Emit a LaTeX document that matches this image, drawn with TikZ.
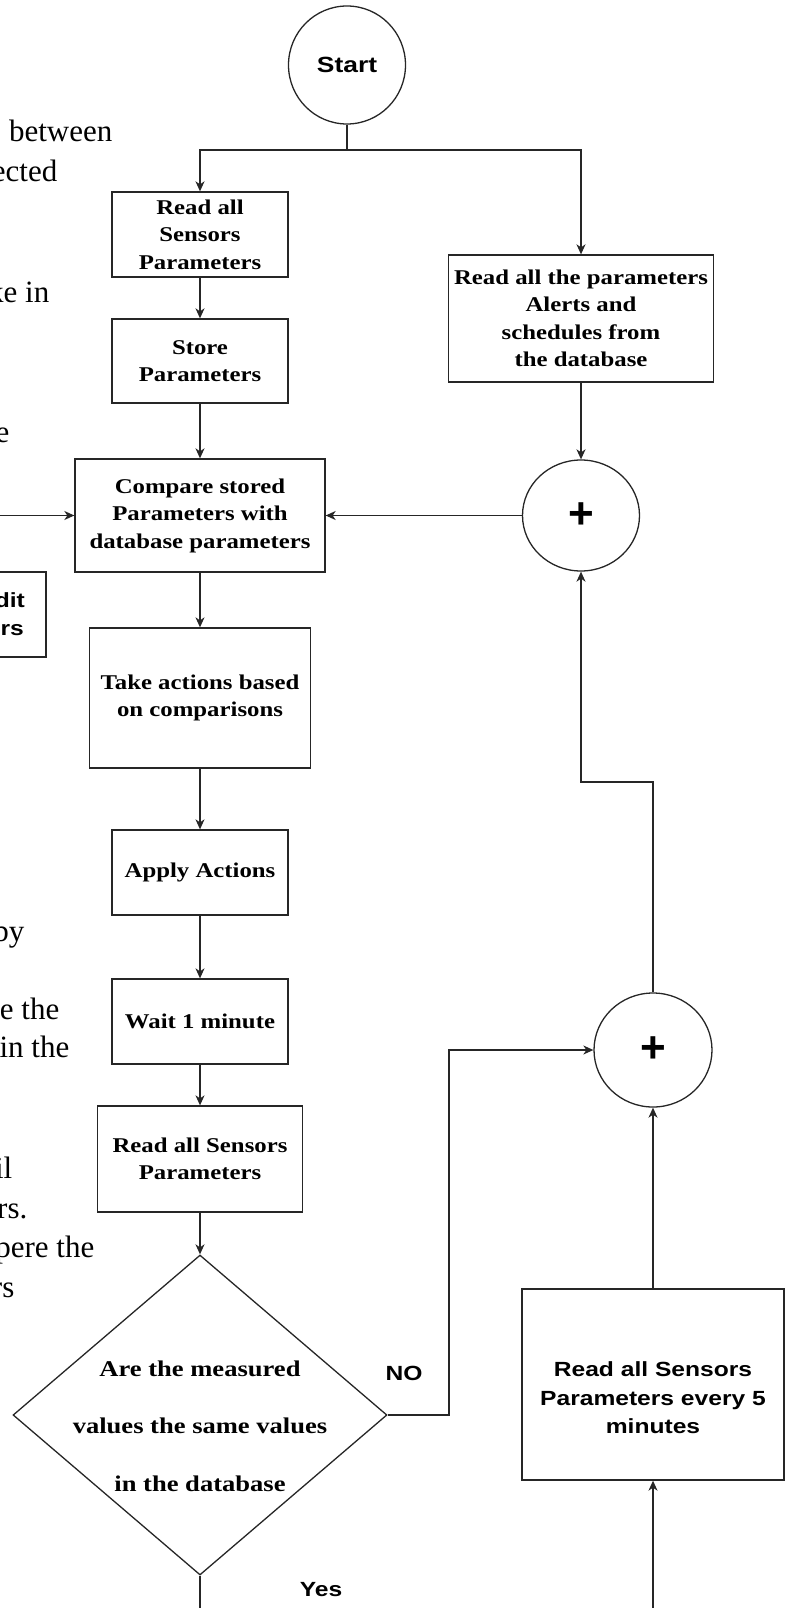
\documentclass[tikz,border=0pt]{standalone}
\usepackage{fontspec}
\setmainfont{Liberation Serif}
\newfontfamily\chartserif[FakeStretch=1.18]{Liberation Serif}
\newfontfamily\chartsans[FakeStretch=1.2]{Liberation Sans}
\newfontfamily\plussans{Liberation Sans}
\usetikzlibrary{arrows.meta,shapes.geometric}

\begin{document}
\begin{tikzpicture}[x=1pt,y=-1pt,line width=1.3pt,
  stepbox/.style={draw=black!85,rectangle,inner sep=0pt,align=center,
    font=\chartserif\bfseries\fontsize{21}{27.5}\selectfont},
  roundnode/.style={draw=black!85,ellipse,inner sep=0pt},
  sumnode/.style={roundnode,font=\plussans\bfseries\fontsize{44}{44}\selectfont},
  sanslabel/.style={inner sep=0pt,align=center,
    font=\chartsans\bfseries\fontsize{20.5}{28.5}\selectfont},
  bodytext/.style={inner sep=0pt,anchor=base east,
    font=\fontsize{31}{40}\selectfont},
  conn/.style={draw=black!85,-{Stealth[length=10pt,width=9pt,inset=3pt]}},
  plainconn/.style={draw=black!85}]

\useasboundingbox (0,0) rectangle (787,1608);
\clip (0,0) rectangle (787,1608);

% running text of the page beside the chart
\node[bodytext] (b1) at (113,142) {between};
\node[bodytext] (b2) at (58,182) {ected};
\node[bodytext] (b3) at (50,302) {ke in};
\node[bodytext] (b4) at (10,442) {e};
\node[bodytext] (b5) at (25,941) {by};
\node[bodytext] (b6) at (60,1019) {e the};
\node[bodytext] (b7) at (70,1057) {in the};
\node[bodytext] (b8) at (13,1178) {il};
\node[bodytext] (b9) at (28,1218) {rs.};
\node[bodytext] (b10) at (95,1257) {pere the};
\node[bodytext] (b11) at (15,1297) {rs};

% neighbouring box on the left
\node[draw=black!85,rectangle,minimum width=146,minimum height=85] (editbox) at (-27,614.5) {};
\node[sanslabel,anchor=base east] (edit1) at (25.5,607) {dit};
\node[sanslabel,anchor=base east] (edit2) at (24.5,635) {rs};

% main column
\node[roundnode,minimum width=117,minimum height=118,
  font=\chartsans\bfseries\fontsize{22}{26}\selectfont] (start) at (347,65) {Start};
\node[stepbox,minimum width=176,minimum height=85] (readA) at (200,234.5) {Read all\\Sensors\\Parameters};
\node[stepbox,minimum width=176,minimum height=84] (store) at (200,361) {Store\\Parameters};
\node[stepbox,minimum width=250,minimum height=113] (compare) at (200,515.5) {Compare stored\\Parameters with\\database parameters};
\node[stepbox,minimum width=221,minimum height=140] (take) at (200,698) {Take actions based\\on comparisons};
\node[stepbox,minimum width=176,minimum height=85] (apply) at (200,872.5) {Apply Actions};
\node[stepbox,minimum width=176,minimum height=85] (wait) at (200,1021.5) {Wait 1 minute};
\node[stepbox,minimum width=205,minimum height=106] (readB) at (200,1159) {Read all Sensors\\Parameters};
\node[draw=black!85,diamond,inner sep=0pt,minimum width=374,minimum height=320] (check) at (200,1415) {};
\node[inner sep=0pt,align=center,
  font=\chartserif\bfseries\fontsize{22.5}{57.5}\selectfont] (checktext) at (200,1426)
  {Are the measured\\values the same values\\in the database};

% right column
\node[stepbox,minimum width=265,minimum height=127] (readDB) at (581,318.5) {Read all the parameters\\Alerts and\\schedules from\\the database};
\node[sumnode,minimum width=117,minimum height=111] (plusA) at (581,515.5) {+};
\node[sumnode,minimum width=118,minimum height=114] (plusB) at (653,1050) {+};
\node[draw=black!85,rectangle,minimum width=262,minimum height=191] (rbox) at (653,1384.5) {};
\node[sanslabel] (rtext) at (653,1398) {Read all Sensors\\Parameters every 5\\minutes};

% branch labels
\node[sanslabel] (nolabel) at (404,1373) {NO};
\node[sanslabel] (yeslabel) at (321,1590) {Yes};

% connector points
\coordinate (split) at (347,150);
\coordinate (leftin) at (-2,515.5);
\coordinate (yesend) at (200,1612);
\coordinate (noturn) at (449,1415);
\coordinate (loopturn) at (653,782);
\coordinate (rbottom) at (653,1612);

% connectors
\draw[plainconn] (start.south) -- (split);
\draw[conn] (split) -| (readA.north);
\draw[conn] (split) -| (readDB.north);
\draw[conn] (readA) -- (store);
\draw[conn] (store) -- (compare);
\draw[conn] (compare) -- (take);
\draw[conn] (take) -- (apply);
\draw[conn] (apply) -- (wait);
\draw[conn] (wait) -- (readB);
\draw[conn] (readB) -- (check);
\draw[plainconn] (check.south) -- (yesend);
\draw[conn] (readDB) -- (plusA);
\draw[conn] (plusA) -- (compare);
\draw[conn] (leftin) -- (compare.west);
\draw[conn] (check.east) -- (noturn) |- (plusB.west);
\draw[conn] (plusB.north) -- (loopturn) -| (plusA.south);
\draw[conn] (rbox.north) -- (plusB.south);
\draw[conn] (rbottom) -- (rbox.south);
\end{tikzpicture}
\end{document}
